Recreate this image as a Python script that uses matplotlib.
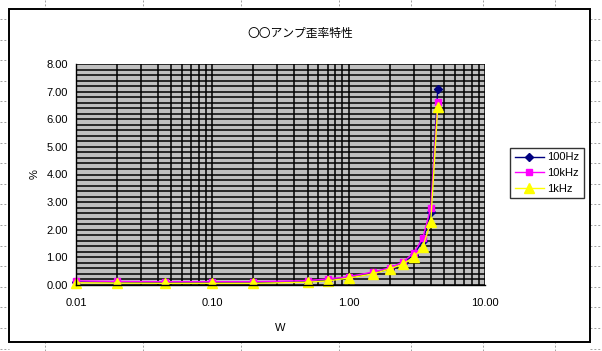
import matplotlib.pyplot as plt
import matplotlib.ticker as ticker
import numpy as np

plt.rcParams["font.family"] = ["Liberation Sans", "Noto Sans CJK JP", "DejaVu Sans"]

# data (output power W / distortion %)
watts = [0.01, 0.02, 0.045, 0.1, 0.2, 0.5, 0.7, 1.0, 1.5, 2.0, 2.5, 3.0, 3.5, 4.0, 4.5]
thd_100hz = [0.12, 0.10, 0.08, 0.08, 0.08, 0.12, 0.18, 0.26, 0.42, 0.58, 0.78, 1.10, 1.60, 2.64, 7.10]
thd_10khz = [0.15, 0.13, 0.12, 0.12, 0.12, 0.16, 0.22, 0.30, 0.47, 0.62, 0.83, 1.16, 1.70, 2.79, 6.63]
thd_1khz = [0.08, 0.07, 0.06, 0.06, 0.06, 0.10, 0.15, 0.25, 0.40, 0.58, 0.76, 1.00, 1.38, 2.28, 6.45]

W, H = 602, 351
fig = plt.figure(figsize=(W / 100, H / 100), dpi=100)

# sheet cell lines around the chart object
for x in [45, 143, 241, 339, 411, 483, 555]:
    fig.add_artist(plt.Line2D([x / W, x / W], [1, 1 - 9 / H], color="#a0a0a0",
                              lw=0.7, ls=(0, (2, 2)), zorder=-2))
    fig.add_artist(plt.Line2D([x / W, x / W], [0, 9 / H], color="#a0a0a0",
                              lw=0.7, ls=(0, (2, 2)), zorder=-2))
for y in np.arange(19, 351, 20.6):
    fig.add_artist(plt.Line2D([0, 9 / W], [1 - y / H, 1 - y / H], color="#a0a0a0",
                              lw=0.7, ls=(0, (2, 2)), zorder=-2))
    fig.add_artist(plt.Line2D([590 / W, 1], [1 - y / H, 1 - y / H], color="#a0a0a0",
                              lw=0.7, ls=(0, (2, 2)), zorder=-2))

# chart border
fig.add_artist(plt.Rectangle((9 / W, 9 / H), 581 / W, 333 / H, fill=True,
                             facecolor="white", edgecolor="black", lw=1.4, zorder=-1))

ax = fig.add_axes([76 / W, 66 / H, 409 / W, 221 / H])
ax.set_facecolor("#c0c0c0")

ax.plot(watts, thd_100hz, color="#000080", lw=1, marker="D", ms=4.5, label="100Hz", clip_on=False)
ax.plot(watts, thd_10khz, color="#ff00ff", lw=1, marker="s", ms=5, label="10kHz", clip_on=False)
ax.plot(watts, thd_1khz, color="#ffff00", lw=1, marker="^", ms=6.5, label="1kHz", clip_on=False)

ax.set_xscale("log")
ax.set_xlim(0.01, 10)
ax.set_ylim(0, 8)
ax.set_yticks(np.arange(0, 8.01, 1))
ax.yaxis.set_minor_locator(ticker.MultipleLocator(0.2))
ax.xaxis.set_minor_locator(ticker.LogLocator(base=10, subs=np.arange(2, 10)))
ax.xaxis.set_minor_formatter(ticker.NullFormatter())
ax.set_xticks([0.01, 0.1, 1, 10])
ax.set_xticklabels(["0.01", "0.10", "1.00", "10.00"])
ax.set_yticklabels(["%.2f" % v for v in np.arange(0, 8.01, 1)])

ax.grid(True, which="both", color="black", lw=1.1)
ax.set_axisbelow(True)
ax.tick_params(which="both", length=0, labelsize=8, pad=9)
ax.tick_params(axis="y", pad=6)
for side in ["top", "right"]:
    ax.spines[side].set_visible(False)
ax.spines["left"].set_linewidth(1)
ax.spines["bottom"].set_linewidth(1)

ax.set_xlabel("W", fontsize=8, labelpad=11)
ax.set_ylabel("%", fontsize=8, labelpad=5)

fig.text(300 / W, 1 - 33 / H, "〇〇アンプ歪率特性", ha="center", va="center",
         fontsize=8.5, family=["Noto Sans CJK JP", "DejaVu Sans"])

leg = fig.legend(loc="center", bbox_to_anchor=(547 / W, 1 - 173 / H), fontsize=8,
                 frameon=True, fancybox=False, edgecolor="black", handlelength=2.6,
                 borderpad=0.4, labelspacing=0.5, handletextpad=0.3)
leg.get_frame().set_linewidth(1)

fig.savefig("out.png", dpi=100)
